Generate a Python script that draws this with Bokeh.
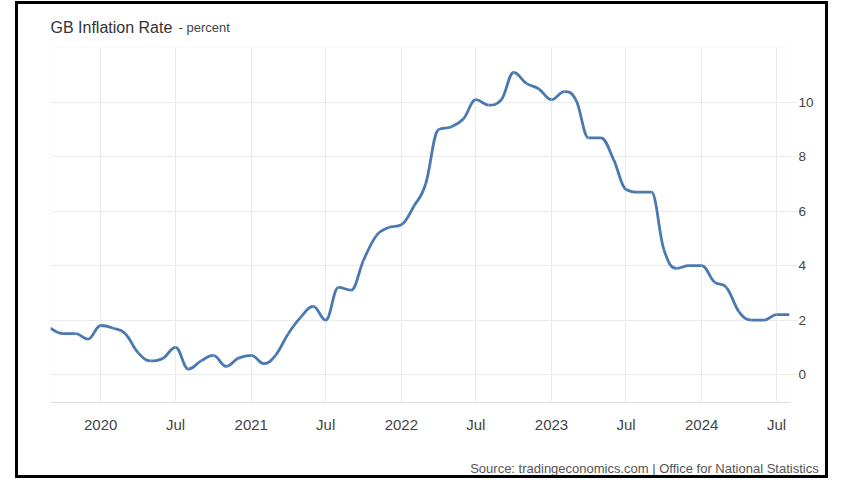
import numpy as np
import pandas as pd
from bokeh.plotting import figure
from bokeh.models import Range1d, FixedTicker, Label, BoxAnnotation
from bokeh.embed import file_html
from bokeh.resources import INLINE

# ---------------- data ----------------
months = [
    "2019-09", "2019-10", "2019-11", "2019-12",
    "2020-01", "2020-02", "2020-03", "2020-04", "2020-05", "2020-06",
    "2020-07", "2020-08", "2020-09", "2020-10", "2020-11", "2020-12",
    "2021-01", "2021-02", "2021-03", "2021-04", "2021-05", "2021-06",
    "2021-07", "2021-08", "2021-09", "2021-10", "2021-11", "2021-12",
    "2022-01", "2022-02", "2022-03", "2022-04", "2022-05", "2022-06",
    "2022-07", "2022-08", "2022-09", "2022-10", "2022-11", "2022-12",
    "2023-01", "2023-02", "2023-03", "2023-04", "2023-05", "2023-06",
    "2023-07", "2023-08", "2023-09", "2023-10", "2023-11", "2023-12",
    "2024-01", "2024-02", "2024-03", "2024-04", "2024-05", "2024-06",
    "2024-07", "2024-08",
]
inflation = [
    1.7, 1.5, 1.5, 1.3,
    1.8, 1.7, 1.5, 0.8, 0.5, 0.6, 1.0, 0.2, 0.5, 0.7, 0.3, 0.6,
    0.7, 0.4, 0.7, 1.5, 2.1, 2.5, 2.0, 3.2, 3.1, 4.2, 5.1, 5.4,
    5.5, 6.2, 7.0, 9.0, 9.1, 9.4, 10.1, 9.9, 10.1, 11.1, 10.7, 10.5,
    10.1, 10.4, 10.1, 8.7, 8.7, 7.9, 6.8, 6.7, 6.7, 4.6, 3.9, 4.0,
    4.0, 3.4, 3.2, 2.3, 2.0, 2.0, 2.2, 2.2,
]
x_tick_dates = ["2020-01-01", "2020-07-01", "2021-01-01", "2021-07-01",
                "2022-01-01", "2022-07-01", "2023-01-01", "2023-07-01",
                "2024-01-01", "2024-07-01"]
x_tick_labels = ["2020", "Jul", "2021", "Jul", "2022", "Jul", "2023", "Jul",
                 "2024", "Jul"]
y_ticks = [0, 2, 4, 6, 8, 10]
title_text = "GB Inflation Rate"
subtitle_text = "- percent"
source_text = "Source: tradingeconomics.com | Office for National Statistics"

FONT = "Liberation Sans"
LINE_COLOR = "#4a79b2"
GRID_COLOR = "#ebebeb"

X_START, X_END = "2019-09-01", "2024-08-04"
Y_BOTTOM, Y_PLOT_TOP, Y_CANVAS_TOP = -1.03, 12.02, 13.60


def to_ms(s):
    return int(pd.Timestamp(s).value // 10**6)


xs = np.array([to_ms(m + "-01") for m in months], dtype=float)
ys = np.array(inflation, dtype=float)

# spline control points (Highcharts-style smoothing)
n = len(xs)
lcx = xs.copy(); lcy = ys.copy(); rcx = xs.copy(); rcy = ys.copy()
sm = 1.5
den = sm + 1
for i in range(1, n - 1):
    px, py = xs[i], ys[i]
    lx, ly = xs[i - 1], ys[i - 1]
    nx, ny = xs[i + 1], ys[i + 1]
    a_x = (sm * px + lx) / den
    a_y = (sm * py + ly) / den
    b_x = (sm * px + nx) / den
    b_y = (sm * py + ny) / den
    corr = ((b_y - a_y) * (b_x - px)) / (b_x - a_x) + py - b_y
    a_y += corr
    b_y += corr
    if a_y > ly and a_y > py:
        a_y = max(ly, py); b_y = 2 * py - a_y
    elif a_y < ly and a_y < py:
        a_y = min(ly, py); b_y = 2 * py - a_y
    if b_y > ny and b_y > py:
        b_y = max(ny, py); a_y = 2 * py - b_y
    elif b_y < ny and b_y < py:
        b_y = min(ny, py); a_y = 2 * py - b_y
    lcx[i], lcy[i], rcx[i], rcy[i] = a_x, a_y, b_x, b_y

W, H = 813, 477
p = figure(
    width=W, height=H,
    output_backend="svg", toolbar_location=None,
    x_range=Range1d(to_ms(X_START), to_ms(X_END)),
    y_range=Range1d(Y_BOTTOM, Y_CANVAS_TOP),
    y_axis_location="right", title_location=None,
    min_border_left=32, min_border_right=41,
    min_border_top=0, min_border_bottom=79,
    background_fill_color="white", border_fill_color="white",
)
p.margin = (1, 0, 0, 15)
p.styles = {"border": "3px solid black"}
p.outline_line_color = None

# plot-area box
p.add_layout(BoxAnnotation(left=to_ms(X_START), right=to_ms(X_END),
                           bottom=Y_BOTTOM, top=Y_PLOT_TOP,
                           fill_alpha=0, line_color=GRID_COLOR, line_width=1,
                           level="underlay"))

p.bezier(x0=xs[:-1], y0=ys[:-1], x1=xs[1:], y1=ys[1:],
         cx0=rcx[:-1], cy0=rcy[:-1], cx1=lcx[1:], cy1=lcy[1:],
         line_color=LINE_COLOR, line_width=2.8)

tick_ms = [to_ms(d) for d in x_tick_dates]
p.xaxis.ticker = FixedTicker(ticks=tick_ms)
p.xaxis.major_label_overrides = {t: lab for t, lab in zip(tick_ms, x_tick_labels)}
p.xaxis.major_tick_line_color = None
p.xaxis.minor_tick_line_color = None
p.xaxis.axis_line_color = "#dedede"
p.xaxis.major_label_standoff = 7
p.xaxis.major_label_text_font = FONT
p.xaxis.major_label_text_font_size = "15px"
p.xaxis.major_label_text_color = "#444444"

# source note as the x axis label; the centred label is padded on the left
# with no-break spaces so that its visible text sits at the bottom right
xax = p.xaxis[0]
xax.axis_label = "\u00a0" * 124 + source_text
xax.axis_label_text_font = FONT
xax.axis_label_text_font_size = "13px"
xax.axis_label_text_font_style = "normal"
xax.axis_label_text_color = "#555555"
xax.axis_label_standoff = 25
xax.axis_label_align = "center"

p.yaxis.ticker = FixedTicker(ticks=y_ticks)
p.yaxis.major_tick_in = 0
p.yaxis.major_tick_out = 7
p.yaxis.major_tick_line_color = GRID_COLOR
p.yaxis.minor_tick_line_color = None
p.yaxis.axis_line_color = None
p.yaxis.major_label_standoff = 1
p.yaxis.major_label_text_font = FONT
p.yaxis.major_label_text_font_size = "13.5px"
p.yaxis.major_label_text_color = "#444444"

p.xgrid.ticker = FixedTicker(ticks=tick_ms)
p.ygrid.ticker = FixedTicker(ticks=y_ticks)
p.xgrid.grid_line_color = GRID_COLOR
p.ygrid.grid_line_color = GRID_COLOR
if "cross_bounds" in p.xgrid[0].properties():
    p.xgrid[0].cross_bounds = (Y_BOTTOM, Y_PLOT_TOP)
else:
    p.add_layout(BoxAnnotation(bottom=Y_PLOT_TOP, fill_color="white",
                               fill_alpha=1, line_color=None, level="underlay"))

# title and unit, in the header area of the frame
p.add_layout(Label(x=to_ms(X_START), y=12.76, x_offset=0,
                   text=title_text, text_font=FONT, text_font_size="16px",
                   text_color="#333333", text_baseline="alphabetic"))
p.add_layout(Label(x=to_ms(X_START), y=12.76, x_offset=128,
                   text=subtitle_text, text_font=FONT, text_font_size="13px",
                   text_color="#444444", text_baseline="alphabetic"))

open("out.html", "w").write(file_html(p, INLINE))
